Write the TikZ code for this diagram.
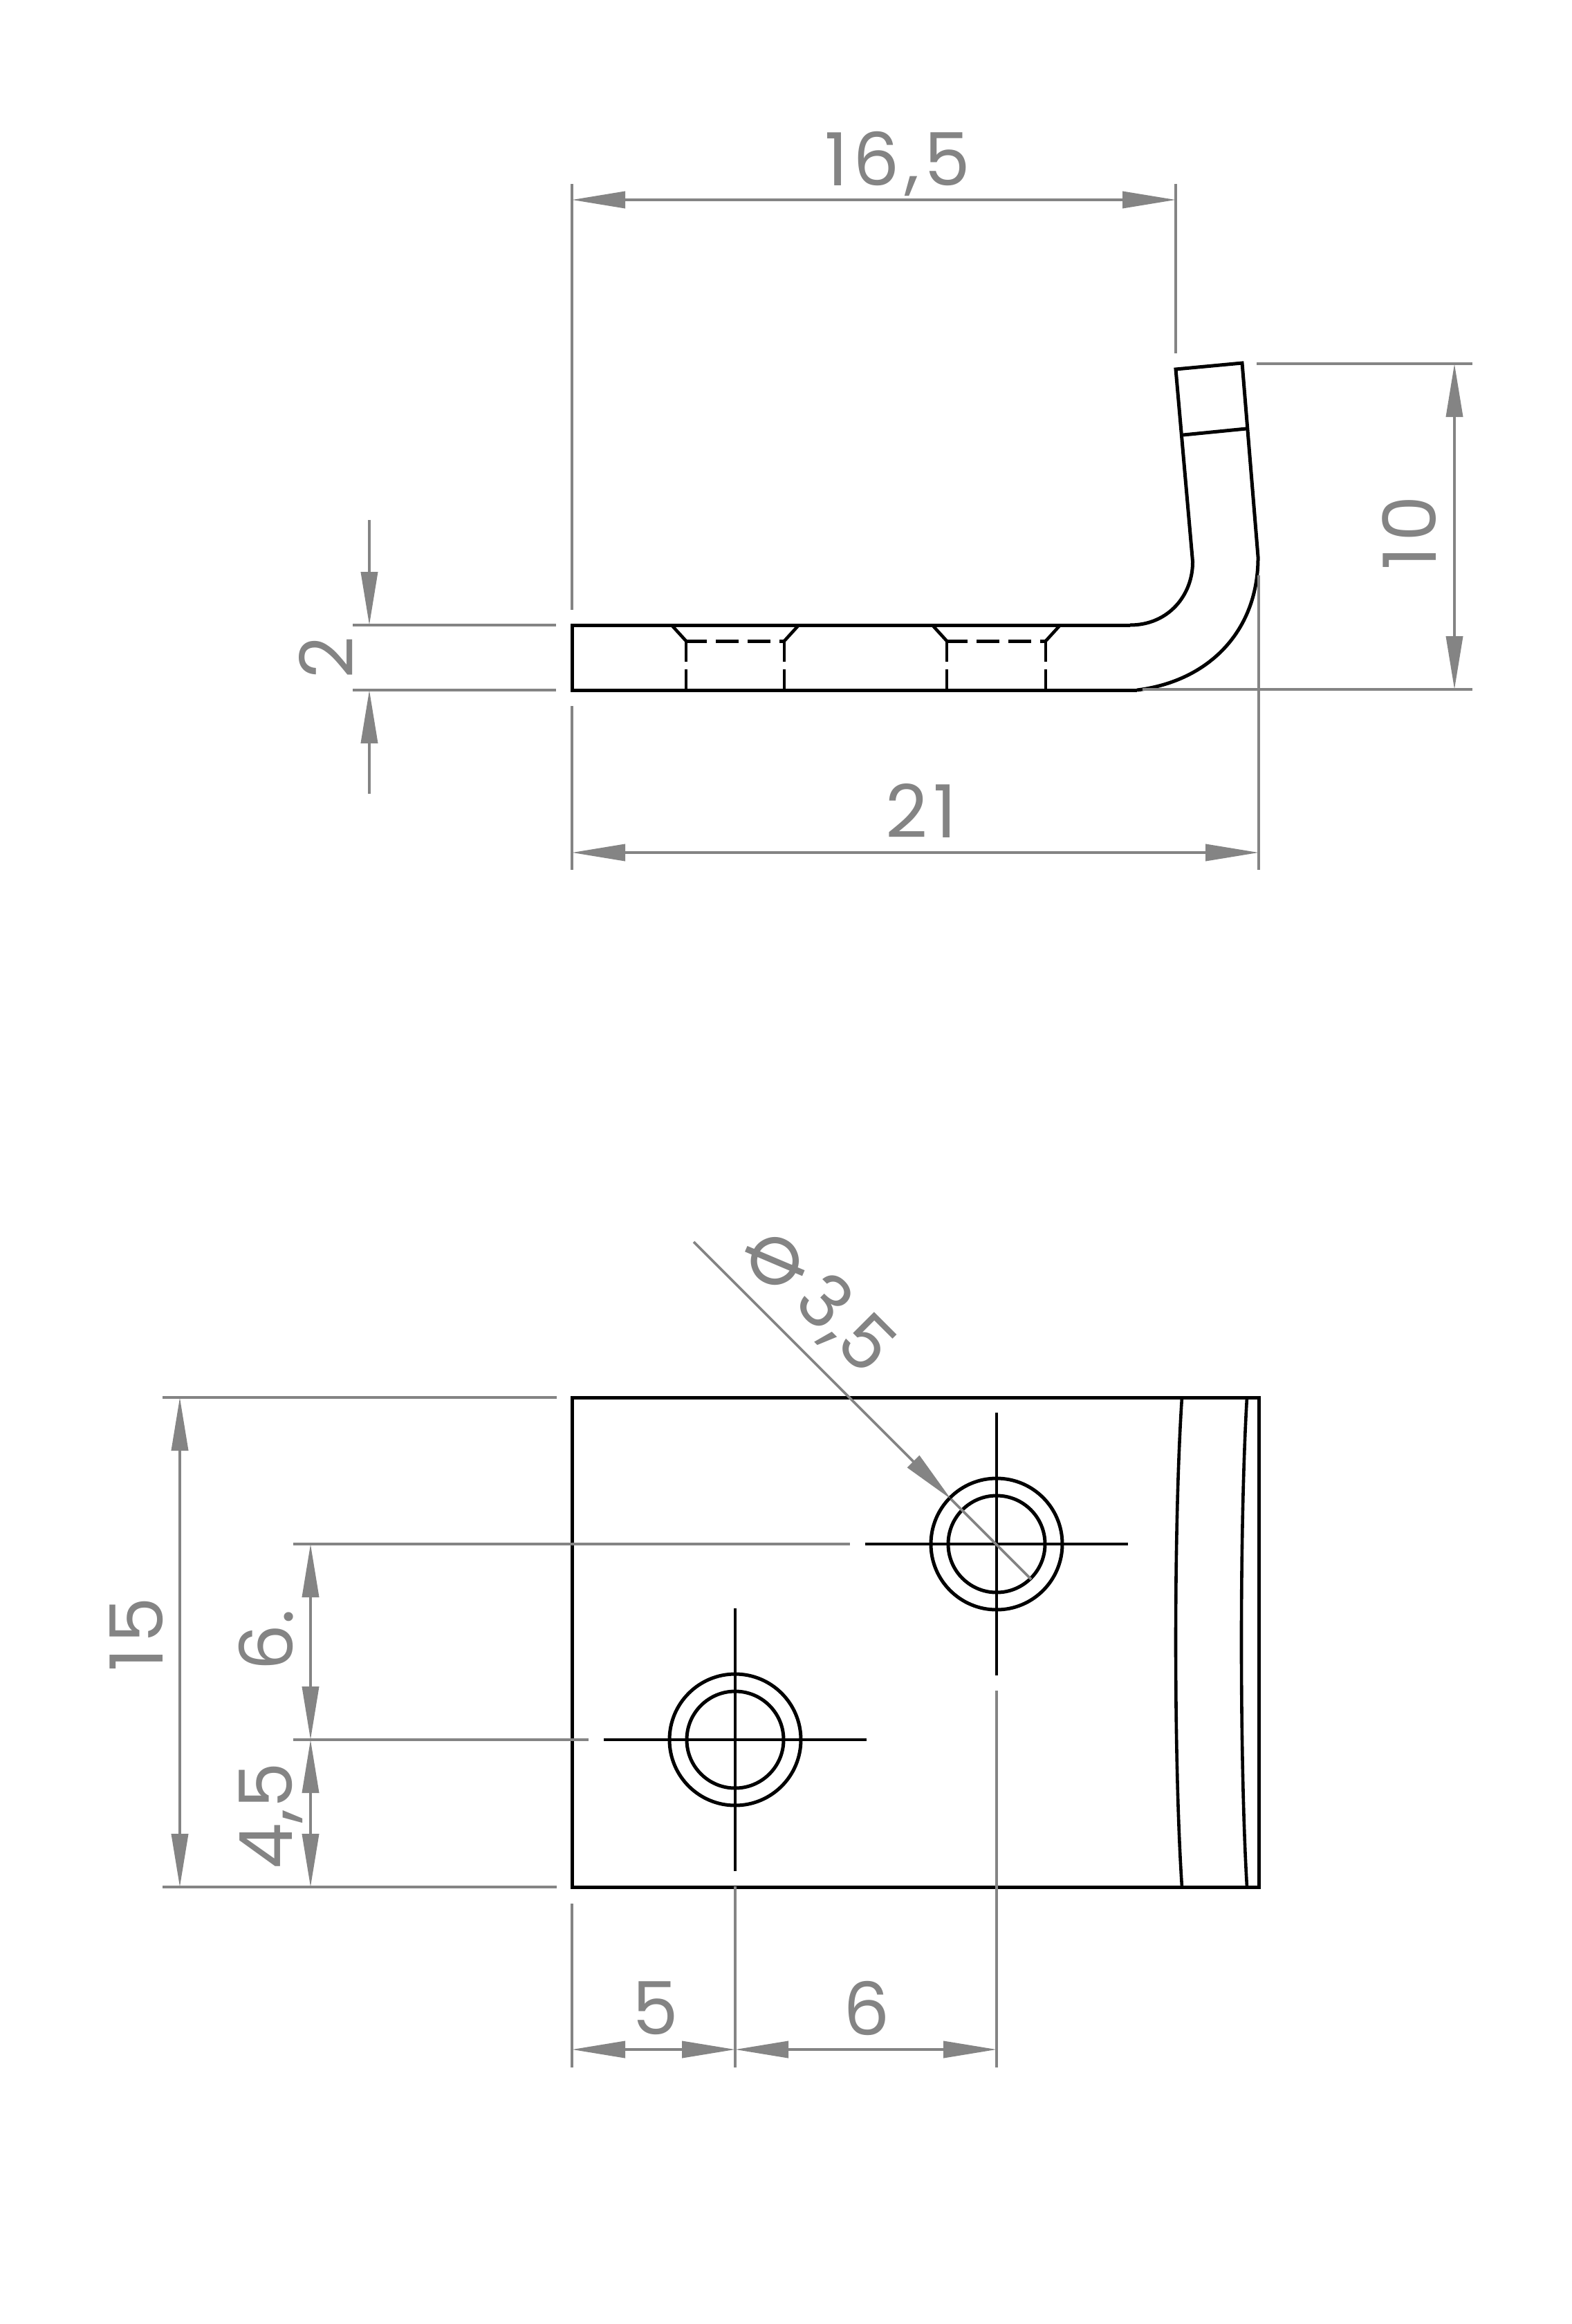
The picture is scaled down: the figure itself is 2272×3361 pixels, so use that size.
\documentclass[tikz,border=0pt]{standalone}
\usepackage{fontspec}
\setmainfont{Poppins}
\newfontfamily\symfont{DejaVu Sans}
\usetikzlibrary{arrows.meta}
\definecolor{dimgrey}{HTML}{848484}
\tikzset{
  part/.style={black,line width=2.5pt,line join=miter},
  partthin/.style={black,line width=2.3pt},
  dimline/.style={dimgrey,line width=1.9pt},
  dimarrow/.style={dimline,{Triangle[length=38.5pt,width=12pt]}-{Triangle[length=38.5pt,width=12pt]}},
  endarrow/.style={dimline,-{Triangle[length=38.5pt,width=12pt]}},
  dimtext/.style={text=dimgrey,inner sep=0pt,text depth=0pt,font=\fontsize{53}{55}\selectfont},
  widetext/.style={dimtext,font=\fontsize{53}{55}\selectfont\addfontfeature{LetterSpace=7}},
}
\begin{document}
\begin{tikzpicture}[x=0.5pt,y=-0.5pt]
\useasboundingbox (0,0) rectangle (2272,3361);
% ---- side view
\draw[part] (1634,904) -- (827,904) -- (827,998) -- (1644,998);
\draw[part] (1634,904) .. controls (1690,904) and (1725,860) .. (1724.5,812) -- (1700,534) -- (1796,525) -- (1819,805)
  .. controls (1820,910) and (1750,985) .. (1644,998);
\draw[part] (1711,629) -- (1802,620);
\foreach \a/\b/\c/\d in {971/992/1134/1155,1348/1369/1512/1533}{
  \draw[partthin] (\a,904) -- (\b,927);
  \draw[partthin] (\d,904) -- (\c,927);
  \draw[partthin] (\b,927) -- (\b,957) (\b,968) -- (\b,998);
  \draw[partthin] (\c,927) -- (\c,957) (\c,968) -- (\c,998);
  \draw[part] (\b,927) -- +(30,0) +(43,0) -- +(76,0) +(89,0) -- +(122,0) +(135,0) -- +(\c-\b,0);
}
% ---- front view
\draw[part] (827,2021) rectangle (1820,2729);
\draw[partthin] (1709,2021) .. controls (1697,2200) and (1697,2550) .. (1709,2729);
\draw[partthin] (1803,2021) .. controls (1792.3,2200) and (1792.3,2550) .. (1803,2729);
\foreach \x/\y in {1441/2233,1063/2516}{
  \draw[part] (\x,\y) circle[radius=95];
  \draw[part] (\x,\y) circle[radius=70];
  \draw[partthin] (\x-190,\y) -- (\x+190,\y);
  \draw[partthin] (\x,\y-190) -- (\x,\y+190);
}
% ---- dimensions, side view
\draw[dimline] (827,266) -- (827,882);
\draw[dimline] (827,1021) -- (827,1258);
\draw[dimline] (1700,266) -- (1700,511);
\draw[dimline] (1820,832) -- (1820,1258);
\draw[dimline] (1817,526) -- (2129,526);
\draw[dimline] (1652,997) -- (2129,997);
\draw[dimline] (510,904) -- (804,904);
\draw[dimline] (510,998) -- (804,998);
\draw[dimarrow] (827,289) -- (1700,289);
\draw[dimarrow] (827,1233) -- (1820,1233);
\draw[dimarrow] (2103,526) -- (2103,997);
\draw[endarrow] (534,752) -- (534,904);
\draw[endarrow] (534,1148) -- (534,998);
\node[widetext] (t165) at (1298,229) {16,5};
\node[widetext] (t21) at (1332,1172) {21};
\node[widetext,rotate=90] (t10) at (2038,771) {10};
\node[dimtext,rotate=90] (t2) at (471,951) {2};
% ---- dimensions, front view
\draw[dimline] (235,2021) -- (805,2021);
\draw[dimline] (235,2729) -- (805,2729);
\draw[dimline] (424,2233) -- (1229,2233);
\draw[dimline] (424,2516) -- (851,2516);
\draw[dimline] (827,2753) -- (827,2990);
\draw[dimline] (1063,2728) -- (1063,2990);
\draw[dimline] (1441,2445) -- (1441,2990);
\draw[dimarrow] (260,2021) -- (260,2729);
\draw[dimarrow] (449,2233) -- (449,2516);
\draw[dimarrow] (449,2516) -- (449,2729);
\draw[dimarrow] (827,2964) -- (1063,2964);
\draw[dimarrow] (1063,2964) -- (1441,2964);
\draw[endarrow] (1003,1796) -- (1375,2168);
\draw[dimline] (1375,2168) -- (1491,2284);
\node[widetext,rotate=90] (t15) at (197,2364) {15};
\node[dimtext,rotate=90] (t6) at (384,2372) {6.};
\node[dimtext,rotate=90] (t45) at (384,2626) {4,5};
\node[dimtext] (t5) at (948,2904) {5};
\node[dimtext] (t6b) at (1253,2904) {6};
\node[dimtext,rotate=-68,font=\fontsize{66}{68}\symfont] (tphi) at (1122,1824) {⌀};
\node[dimtext,rotate=-45] (t35) at (1225,1912) {3,5};
\end{tikzpicture}
\end{document}
